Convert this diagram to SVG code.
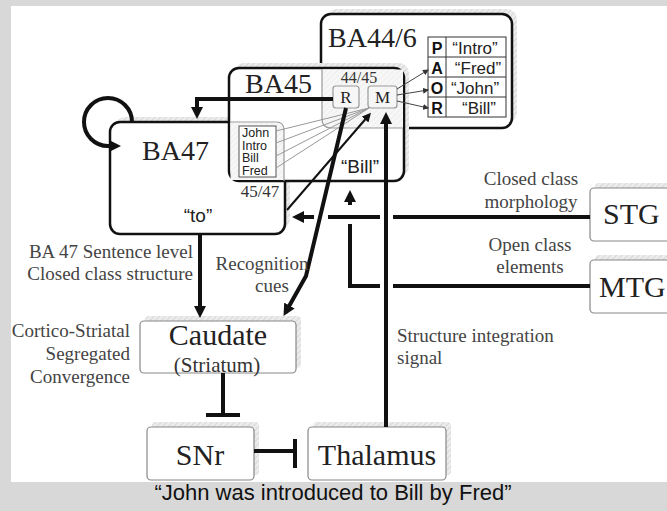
<svg xmlns="http://www.w3.org/2000/svg" width="667" height="511" viewBox="0 0 667 511">
<defs>
<pattern id="hatch" width="4" height="4" patternUnits="userSpaceOnUse" patternTransform="rotate(45)">
<rect width="4" height="4" fill="#ececec"/>
<line x1="0" y1="0" x2="0" y2="4" stroke="#d0d0d0" stroke-width="1.5"/>
</pattern>
<pattern id="lighthatch" width="4" height="4" patternUnits="userSpaceOnUse" patternTransform="rotate(45)">
<rect width="4" height="4" fill="#f7f7f7"/>
<line x1="0" y1="0" x2="0" y2="4" stroke="#e6e6e6" stroke-width="1"/>
</pattern>
<marker id="big" markerWidth="12" markerHeight="12" refX="8" refY="6" orient="auto" markerUnits="userSpaceOnUse">
<path d="M0,0 L12,6 L0,12 z" fill="#111"/>
</marker>
<marker id="mid" markerWidth="9" markerHeight="9" refX="6" refY="4.5" orient="auto" markerUnits="userSpaceOnUse">
<path d="M0,0 L9,4.5 L0,9 z" fill="#111"/>
</marker>
<marker id="small" markerWidth="6" markerHeight="6" refX="5" refY="3" orient="auto" markerUnits="userSpaceOnUse">
<path d="M0,0 L6,3 L0,6 z" fill="#333"/>
</marker>
</defs>
<style>
.ba{fill:#fff;stroke:#111;stroke-width:2.5}
.shadow{fill:url(#hatch);stroke:none}
.box{fill:#fff;stroke:#888;stroke-width:1.2}
.serif{font-family:"Liberation Serif","Times New Roman",serif}
.sans{font-family:"Liberation Sans",Arial,sans-serif}
.lab{font-family:"Liberation Serif","Times New Roman",serif;font-size:19px;fill:#444}
.big{font-family:"Liberation Serif","Times New Roman",serif;font-size:28px;fill:#222}
.node{font-family:"Liberation Serif","Times New Roman",serif;font-size:30px;fill:#222}
.thick{fill:none;stroke:#111;stroke-width:4}
.thin{fill:none;stroke:#999;stroke-width:1}
.ovl{fill:none;stroke:#999;stroke-width:1.2}
</style>
<rect x="0" y="0" width="667" height="511" fill="#d8d8d8"/>
<rect x="11" y="6" width="656" height="476" fill="#fff"/>

<g id="BA44_6">
<rect class="shadow" x="326" y="9" width="191" height="114" rx="10"/>
<rect class="ba" x="321" y="14" width="191" height="114" rx="10"/>
<text class="big" x="328" y="47">BA44/6</text>
<g id="PAOR">
<rect x="428" y="37" width="78" height="80" fill="#fff" stroke="#333" stroke-width="1"/>
<line x1="446" y1="37" x2="446" y2="117" stroke="#333" stroke-width="1"/>
<line x1="428" y1="57" x2="506" y2="57" stroke="#333" stroke-width="1"/>
<line x1="428" y1="77" x2="506" y2="77" stroke="#333" stroke-width="1"/>
<line x1="428" y1="97" x2="506" y2="97" stroke="#333" stroke-width="1"/>
<g class="sans" font-size="16" font-weight="bold" fill="#111" text-anchor="middle">
<text x="437" y="54">P</text><text x="437" y="74">A</text><text x="437" y="94">O</text><text x="437" y="114">R</text>
</g>
<g class="sans" font-size="17" fill="#222" text-anchor="middle">
<text x="475" y="54">“Intro”</text><text x="478" y="74">“Fred”</text><text x="475" y="94">“John”</text><text x="479" y="114">“Bill”</text>
</g>
</g>
</g>

<g id="BA47">
<rect class="shadow" x="115" y="117" width="175" height="112" rx="10"/>
<rect class="ba" x="110" y="122" width="175" height="112" rx="10"/>
<text class="big" x="142" y="160">BA47</text>
<text class="sans" font-size="19" fill="#222" x="198" y="222" text-anchor="middle">“to”</text>
</g>

<g id="BA45">
<rect class="shadow" x="234" y="63" width="175" height="113" rx="10"/>
<rect class="ba" x="229" y="68" width="175" height="113" rx="10"/>
<text class="big" x="245" y="93">BA45</text>
<text class="sans" font-size="19" fill="#222" x="360" y="173" text-anchor="middle">“Bill”</text>
</g>

<g id="overlap_44_45">
<path d="M322,69.5 L403,69.5 L403,128 L331,128 Q322,128 322,119 Z" fill="url(#lighthatch)"/>
<path class="ovl" d="M322,69 L322,119 Q322,128 331,128 L403,128"/>
<text class="serif" font-size="16" fill="#333" x="359" y="83" text-anchor="middle">44/45</text>
</g>
<g id="overlap_45_47">
<path d="M230.5,123 L276,123 Q284,123 284,131 L284,180 L230.5,180 Z" fill="url(#lighthatch)"/>
<path class="ovl" d="M230,122 L276,122 Q284,122 284,130 L284,181"/>
<text class="serif" font-size="17" fill="#333" x="260" y="197" text-anchor="middle">45/47</text>
</g>

<g id="words">
<rect x="239" y="126" width="37" height="51" fill="#fff" stroke="#555" stroke-width="1"/>
<g class="sans" font-size="12.5" fill="#222">
<text x="242" y="137">John</text><text x="242" y="149.5">Intro</text><text x="242" y="162">Bill</text><text x="242" y="174.5">Fred</text>
</g>
</g>

<g id="R">
<rect x="333" y="86" width="26" height="22" rx="3" fill="#f6f6f6" stroke="#999" stroke-width="1.2"/>
<text class="serif" font-size="17" fill="#222" x="346" y="103" text-anchor="middle">R</text>
</g>
<g id="M">
<rect x="368" y="86" width="29" height="22" rx="3" fill="#f6f6f6" stroke="#999" stroke-width="1.2"/>
<text class="serif" font-size="17" fill="#222" x="382.5" y="103" text-anchor="middle">M</text>
</g>

<g id="Caudate">
<rect class="shadow" x="145" y="316" width="156" height="52" rx="4"/>
<rect class="box" x="140" y="321" width="156" height="52" rx="4"/>
<text class="node" x="218" y="345" text-anchor="middle">Caudate</text>
<text class="serif" font-size="21" fill="#333" x="217" y="372" text-anchor="middle">(Striatum)</text>
</g>
<g id="SNr">
<rect class="shadow" x="152" y="422" width="107" height="53" rx="4"/>
<rect class="box" x="147" y="427" width="107" height="53" rx="4"/>
<text class="node" x="200" y="465" text-anchor="middle">SNr</text>
</g>
<g id="Thalamus">
<rect class="shadow" x="313" y="422" width="138" height="53" rx="4"/>
<rect class="box" x="308" y="427" width="138" height="53" rx="4"/>
<text class="node" x="377" y="465" text-anchor="middle">Thalamus</text>
</g>
<g id="STG">
<rect class="shadow" x="595" y="183" width="90" height="53" rx="4"/>
<rect class="box" x="590" y="188" width="90" height="53" rx="4"/>
<text class="node" x="603" y="224" font-size="29">STG</text>
</g>
<g id="MTG">
<rect class="shadow" x="595" y="255" width="90" height="53" rx="4"/>
<rect class="box" x="590" y="260" width="90" height="53" rx="4"/>
<text class="node" x="599" y="297" font-size="29">MTG</text>
</g>

<g id="connectors">
<line class="thin" x1="276" y1="131" x2="369" y2="108"/>
<line class="thin" x1="276" y1="143" x2="369" y2="108"/>
<line class="thin" x1="276" y1="156" x2="369" y2="108"/>
<line class="thin" x1="276" y1="168" x2="369" y2="108"/>
<line x1="397" y1="89" x2="428" y2="70" stroke="#444" stroke-width="1" marker-end="url(#small)"/>
<line x1="397" y1="95" x2="428" y2="90" stroke="#444" stroke-width="1" marker-end="url(#small)"/>
<line x1="397" y1="101" x2="428" y2="108" stroke="#444" stroke-width="1" marker-end="url(#small)"/>
<path class="thick" stroke-width="3.5" d="M132,122 A24,24 0 1 0 108,146 L117,146" marker-end="url(#big)"/>
<path class="thick" stroke-width="3" d="M333,99 L197,99 L197,115" marker-end="url(#big)"/>
<line x1="287" y1="210" x2="369" y2="115" stroke="#111" stroke-width="2" marker-end="url(#mid)"/>
<path class="thick" d="M346,108 L306,276 L285.5,312.5" marker-end="url(#big)"/>
<path class="thick" d="M200,234 L200,314" marker-end="url(#big)"/>
<path class="thick" d="M590,217 L393,217 M380,217 L328,217 M314,217 L296,217" marker-end="url(#big)"/>
<path class="thick" d="M590,286 L393,286 M380,286 L350,286 L350,224"/>
<path class="thick" d="M350,205 L350,194" marker-end="url(#big)"/>
<path class="thick" d="M386,427 L386,116" marker-end="url(#big)"/>
<path class="thick" d="M223,373 L223,415 M206,415 L240,415"/>
<path class="thick" d="M254,451 L295,451 M295,439 L295,468"/>
</g>

<g id="labels">
<text class="lab" x="531" y="185" text-anchor="middle">Closed class</text>
<text class="lab" x="531" y="208" text-anchor="middle">morphology</text>
<text class="lab" x="530" y="251" text-anchor="middle">Open class</text>
<text class="lab" x="530" y="273" text-anchor="middle">elements</text>
<text class="lab" x="397" y="342" font-size="18.5">Structure integration</text>
<text class="lab" x="397" y="364" font-size="18.5">signal</text>
<text class="lab" x="193" y="258" text-anchor="end" font-size="18.5">BA 47 Sentence level</text>
<text class="lab" x="193" y="280" text-anchor="end" font-size="18.5">Closed class structure</text>
<text class="lab" x="262" y="270" text-anchor="middle" font-size="18.5">Recognition</text>
<text class="lab" x="272" y="292" text-anchor="middle" font-size="18.5">cues</text>
<text class="lab" x="130" y="337" text-anchor="end">Cortico-Striatal</text>
<text class="lab" x="130" y="360" text-anchor="end">Segregated</text>
<text class="lab" x="130" y="383" text-anchor="end">Convergence</text>
</g>
<text class="sans" font-size="22" fill="#111" x="333" y="500" text-anchor="middle">“John was introduced to Bill by Fred”</text>
</svg>
